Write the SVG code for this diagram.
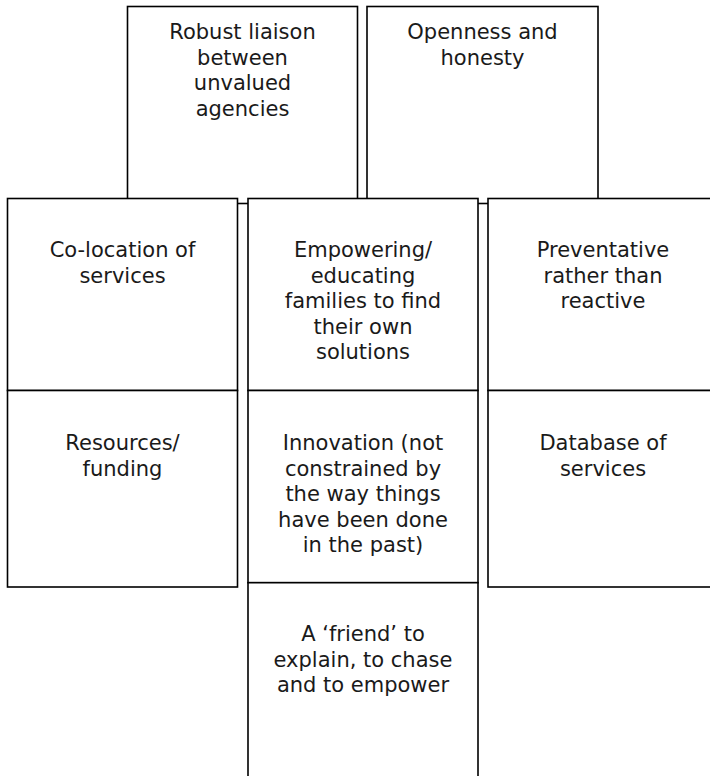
<svg xmlns="http://www.w3.org/2000/svg" width="710" height="776" viewBox="0 0 710 776">
<style>
.box{fill:#fff;stroke:#000;stroke-width:1.6}
.t{font-family:"DejaVu Sans","Verdana",sans-serif;font-size:21px;fill:#1a1a1a;text-anchor:middle}
</style>
<rect width="710" height="776" fill="#fff"/>
<g id="robust-liaison">
<rect class="box" x="127.5" y="6.5" width="230" height="197"/>
<text class="t" x="242.5" y="39.3">Robust liaison</text>
<text class="t" x="242.5" y="64.8">between</text>
<text class="t" x="242.5" y="90.3">unvalued</text>
<text class="t" x="242.5" y="115.8">agencies</text>
</g>
<g id="openness">
<rect class="box" x="367" y="6.5" width="231" height="197"/>
<text class="t" x="482.5" y="39.3">Openness and</text>
<text class="t" x="482.5" y="64.8">honesty</text>
</g>
<g id="co-location">
<rect class="box" x="7.5" y="198.5" width="230" height="192"/>
<text class="t" x="122.5" y="257.3">Co-location of</text>
<text class="t" x="122.5" y="282.8">services</text>
</g>
<g id="empowering">
<rect class="box" x="248" y="198.5" width="230" height="192"/>
<text class="t" x="363" y="257.3">Empowering/</text>
<text class="t" x="363" y="282.8">educating</text>
<text class="t" x="363" y="308.3">families to find</text>
<text class="t" x="363" y="333.8">their own</text>
<text class="t" x="363" y="359.3">solutions</text>
</g>
<g id="preventative">
<rect class="box" x="488" y="198.5" width="230" height="192"/>
<text class="t" x="603" y="257.3">Preventative</text>
<text class="t" x="603" y="282.8">rather than</text>
<text class="t" x="603" y="308.3">reactive</text>
</g>
<g id="resources">
<rect class="box" x="7.5" y="390.5" width="230" height="196.5"/>
<text class="t" x="122.5" y="450">Resources/</text>
<text class="t" x="122.5" y="475.5">funding</text>
</g>
<g id="innovation">
<rect class="box" x="248" y="390.5" width="230" height="192.2"/>
<text class="t" x="363" y="450">Innovation (not</text>
<text class="t" x="363" y="475.5">constrained by</text>
<text class="t" x="363" y="501">the way things</text>
<text class="t" x="363" y="526.5">have been done</text>
<text class="t" x="363" y="552">in the past)</text>
</g>
<g id="database">
<rect class="box" x="488" y="390.5" width="230" height="196.5"/>
<text class="t" x="603" y="450">Database of</text>
<text class="t" x="603" y="475.5">services</text>
</g>
<g id="friend">
<rect class="box" x="248" y="582.7" width="230" height="200"/>
<text class="t" x="363" y="641">A ‘friend’ to</text>
<text class="t" x="363" y="666.5">explain, to chase</text>
<text class="t" x="363" y="692">and to empower</text>
</g>
<g id="connectors"/>
</svg>
